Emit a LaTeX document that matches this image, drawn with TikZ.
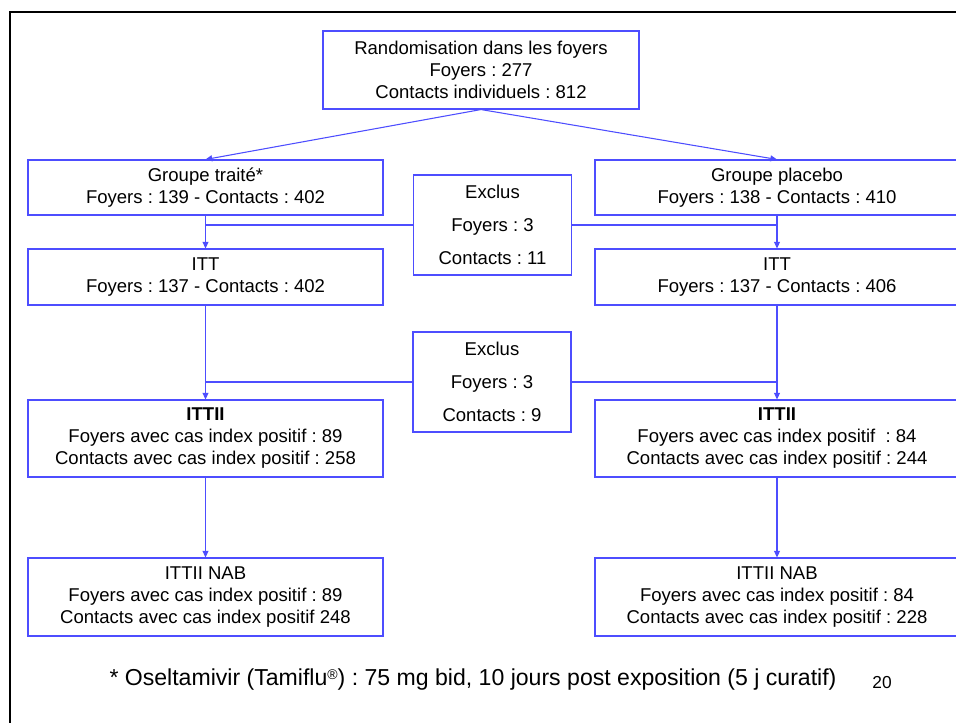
\documentclass[tikz,border=0pt]{standalone}
\usepackage{fontspec}
\setmainfont{Liberation Sans}
\usetikzlibrary{arrows.meta, positioning, calc}

\definecolor{flowblue}{RGB}{77,77,255}
\frenchspacing

\begin{document}
\begin{tikzpicture}[
  x=0.75pt, y=-0.75pt,
  >={Triangle[length=5pt, width=4.5pt]},
  font=\fontsize{13.9}{16.5}\selectfont,
  box/.style={rectangle, draw=flowblue, line width=0.8pt, inner sep=0pt, align=center, fill=white},
  armbox/.style={box, minimum width=266.25pt},
  rightbox/.style={box, minimum width=273pt},
  exclbox/.style={box, minimum width=118.5pt, minimum height=75pt, font=\fontsize{13.9}{24.75}\selectfont},
  link/.style={draw=flowblue, line width=0.8pt},
  arrow/.style={link, ->}
]
\useasboundingbox (0,0) rectangle (956,722);
% -------------------------------------------------------------------------
% FRAME
% -------------------------------------------------------------------------
\draw[line width=1.6pt] (10,740) -- (10,12) -- (970,12);

% -------------------------------------------------------------------------
% BOXES
% -------------------------------------------------------------------------
\node[box, minimum width=237pt, minimum height=58.5pt] (rand) at (481,70) {Randomisation dans les foyers\\ Foyers : 277\\ Contacts individuels : 812};

\node[armbox, minimum height=41.25pt] (traite) at (205.5,187.5) {Groupe traité*\\ Foyers : 139 - Contacts : 402};
\node[rightbox, minimum height=41.25pt] (placebo) at (777,187.5) {Groupe placebo\\ Foyers : 138 - Contacts : 410};
\node[exclbox] (excl_a) at (492.5,225) {Exclus\\ Foyers : 3\\ Contacts : 11};

\node[armbox, minimum height=42pt] (itt_t) at (205.5,277) {ITT\\ Foyers : 137 - Contacts : 402};
\node[rightbox, minimum height=42pt] (itt_p) at (777,277) {ITT\\ Foyers : 137 - Contacts : 406};
\node[exclbox] (excl_b) at (492,382) {Exclus\\ Foyers : 3\\ Contacts : 9};

\node[armbox, minimum height=57.75pt] (ittii_t) at (205.5,438.5) {\textbf{ITTII}\\ Foyers avec cas index positif : 89\\ Contacts avec cas index positif : 258};
\node[rightbox, minimum height=57.75pt] (ittii_p) at (777,438.5) {\textbf{ITTII}\\ Foyers avec cas index positif~ : 84\\ Contacts avec cas index positif : 244};

\node[armbox, minimum height=58.5pt] (nab_t) at (205.5,597) {ITTII NAB\\ Foyers avec cas index positif : 89\\ Contacts avec cas index positif 248};
\node[rightbox, minimum height=58.5pt] (nab_p) at (777,597) {ITTII NAB\\ Foyers avec cas index positif : 84\\ Contacts avec cas index positif : 228};

% -------------------------------------------------------------------------
% CONNECTORS
% -------------------------------------------------------------------------
\draw[arrow] (rand.south) -- (traite.north);
\draw[arrow] (rand.south) -- (placebo.north);

\draw[link] (excl_a.west) -- (excl_a.west -| traite.south);
\draw[link] (excl_a.east) -- (excl_a.east -| placebo.south);
\draw[link] (excl_b.west) -- (excl_b.west -| itt_t.south);
\draw[link] (excl_b.east) -- (excl_b.east -| itt_p.south);

\draw[arrow] (traite.south) -- (itt_t.north);
\draw[arrow] (placebo.south) -- (itt_p.north);
\draw[arrow] (itt_t.south) -- (ittii_t.north);
\draw[arrow] (itt_p.south) -- (ittii_p.north);
\draw[arrow] (ittii_t.south) -- (nab_t.north);
\draw[arrow] (ittii_p.south) -- (nab_p.north);

% -------------------------------------------------------------------------
% FOOTNOTE
% -------------------------------------------------------------------------
\node[font=\fontsize{17.3}{20}\selectfont] (note) at (473,680) {* Oseltamivir (Tamiflu\raisebox{0.5ex}{\fontsize{10.5}{11}\selectfont ®}) : 75 mg bid, 10 jours post exposition (5 j curatif)};
\node[font=\fontsize{13}{15}\selectfont] (pagenum) at (882,683) {20};
\end{tikzpicture}
\end{document}
